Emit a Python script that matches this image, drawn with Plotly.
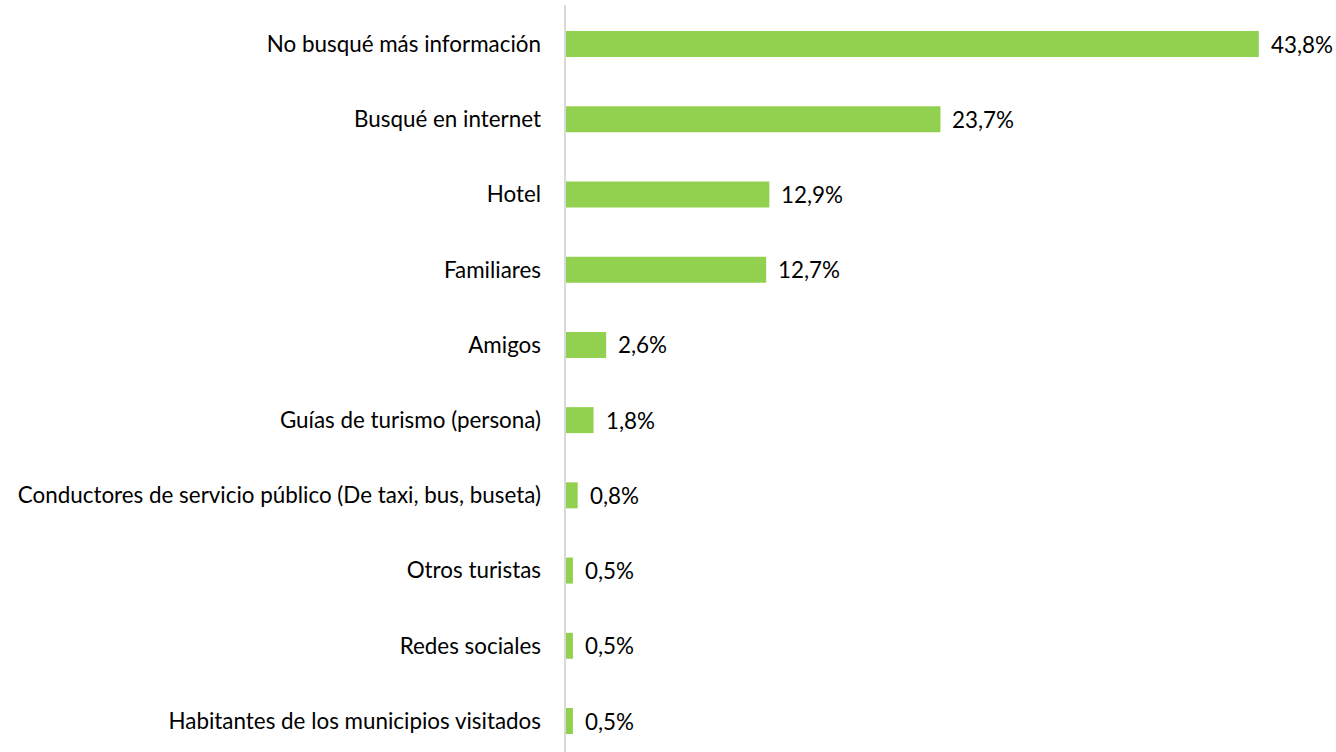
import plotly.graph_objects as go

categories = [
    "No busqué más información",
    "Busqué en internet",
    "Hotel",
    "Familiares",
    "Amigos",
    "Guías de turismo (persona)",
    "Conductores de servicio público (De taxi, bus, buseta)",
    "Otros turistas",
    "Redes sociales",
    "Habitantes de los municipios visitados",
]
values = [43.8, 23.7, 12.9, 12.7, 2.6, 1.8, 0.8, 0.5, 0.5, 0.5]
labels = [f"{v:.1f}%".replace(".", ",") for v in values]

FONT = "Lato, Carlito, Calibri, sans-serif"
FS = 22.4

fig = go.Figure()
fig.add_trace(go.Bar(
    y=categories,
    x=values,
    orientation="h",
    width=0.3457,
    marker=dict(color="#92D050", line=dict(width=0)),
    hoverinfo="skip",
))

for c, v, t in zip(categories, values, labels):
    fig.add_annotation(
        x=v, y=c, text=t, showarrow=False,
        xanchor="left", yanchor="middle", xshift=10,
        font=dict(family=FONT, size=FS, color="#000000"),
    )

# vertical axis line
fig.add_shape(type="line", xref="paper", yref="paper",
              x0=0, x1=0, y0=0, y1=1 - 5 / 752,
              line=dict(color="#D9D9D9", width=2))

fig.update_layout(
    width=1336, height=752,
    margin=dict(l=565, r=0, t=0, b=0),
    paper_bgcolor="white", plot_bgcolor="white",
    showlegend=False,
    font=dict(family=FONT, size=FS, color="#000000"),
    xaxis=dict(range=[0, 48.67], showgrid=False, zeroline=False,
               showticklabels=False, showline=False, ticks=""),
    yaxis=dict(type="category", range=[9.412, -0.585], showgrid=False,
               zeroline=False, showline=False,
               ticks="", ticklabelstandoff=23,
               tickfont=dict(family=FONT, size=FS, color="#000000")),
)

fig.write_html("out.html",
               config={"displayModeBar": False},
               post_script="document.body.style.margin='0';document.body.style.overflow='hidden';")
